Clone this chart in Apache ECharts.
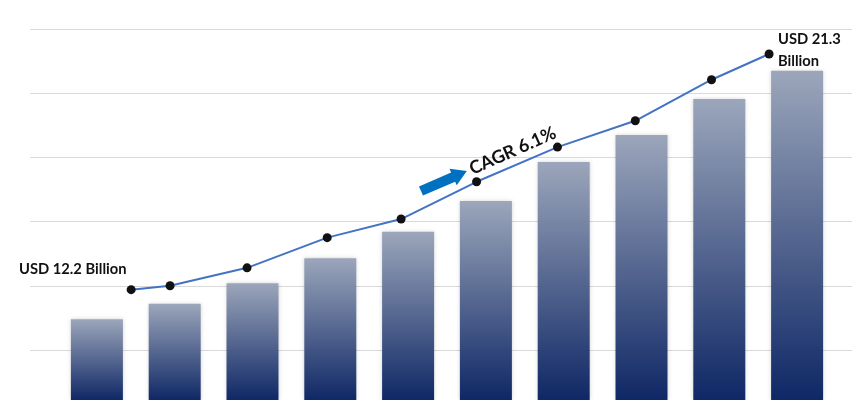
<!DOCTYPE html>
<html>
<head>
<meta charset="utf-8">
<script src="https://cdn.jsdelivr.net/npm/echarts@6/dist/echarts.min.js"></script>
<style>html,body{margin:0;padding:0;background:#fff}#c{width:865px;height:400px}</style>
</head>
<body>
<div id="c"></div>
<script>
// Data (relative units: one gridline step = 1, zero lies just below the visible area)
const categories = ['P1','P2','P3','P4','P5','P6','P7','P8','P9','P10'];
const barValues = [1.48, 1.72, 2.04, 2.43, 2.84, 3.32, 3.93, 4.35, 4.91, 5.35];
const lineX = [0.44, 0.94, 1.93, 2.96, 3.91, 4.88, 5.92, 6.92, 7.9, 8.64];
const lineValues = [1.94, 2.0, 2.28, 2.75, 3.04, 3.62, 4.16, 4.57, 5.21, 5.61];
const startLabel = 'USD 12.2 Billion';
const endLabel = ['USD 21.3', 'Billion'];
const cagrLabel = 'CAGR 6.1%';

const axisTop = 6;          // value at top gridline
const visibleBottom = 0.221; // value at bottom edge of the picture

const chart = echarts.init(document.getElementById('c'), null, {renderer: 'canvas'});
const font = '"Lato", "Open Sans", sans-serif';
const lbl = (text, x, y) => ({type: 'text', x: x, y: y, scaleX: 0.92, z: 10,
  style: {text: text, font: 'bold 16px ' + font, fill: '#111', textVerticalAlign: 'middle', verticalAlign: 'middle'}});
const option = {
  animation: false,
  grid: [
    {left: 58, width: 778, top: 29, bottom: 0},
    {left: 30, right: 13, top: 29, bottom: 0}
  ],
  xAxis: [
    {type: 'category', gridIndex: 0, data: categories, show: false},
    {type: 'value', gridIndex: 0, min: -0.5, max: 9.5, show: false},
    {type: 'value', gridIndex: 1, min: 0, max: 1, show: false}
  ],
  yAxis: [
    {type: 'value', gridIndex: 0, min: visibleBottom, max: axisTop, show: false},
    // gridline axis measured downward from the top gridline
    {type: 'value', gridIndex: 1, inverse: true, min: 0, max: axisTop - visibleBottom, interval: 1,
     axisLine: {show: false}, axisTick: {show: false}, axisLabel: {show: false},
     splitLine: {show: true, lineStyle: {color: '#d9d9d9', width: 1}}}
  ],
  series: [
    {
      type: 'bar', xAxisIndex: 0, yAxisIndex: 0, data: barValues, barWidth: 52, z: 2,
      itemStyle: {
        opacity: 0.94,
        shadowBlur: 4, shadowColor: 'rgba(0,0,0,0.18)',
        color: {type: 'linear', x: 0, y: 0, x2: 0, y2: 1, colorStops: [
          {offset: 0, color: '#98a3b9'},
          {offset: 1, color: '#021c5e'}
        ]}
      }
    },
    {
      type: 'line', xAxisIndex: 1, yAxisIndex: 0, z: 5,
      data: lineX.map((x, i) => [x, lineValues[i]]),
      symbol: 'circle', symbolSize: 9,
      lineStyle: {color: '#4472c4', width: 2},
      itemStyle: {color: '#111111'}
    }
  ],
  graphic: [
    lbl(startLabel, 19, 269),
    lbl(endLabel[0], 778, 39),
    lbl(endLabel[1], 778, 61),
    {type: 'text', x: 474, y: 178, rotation: 0.42, z: 10, style: {text: cagrLabel, font: 'bold 18px ' + font, fill: '#111', textVerticalAlign: 'bottom', verticalAlign: 'bottom'}},
    {type: 'polygon', x: 421, y: 191, rotation: 0.41, z: 10,
     shape: {points: [[0,-5],[35,-5],[35,-9],[50,0],[35,9],[35,5],[0,5]]},
     style: {fill: '#0070c0'}}
  ]
};
chart.setOption(option);
</script>
</body>
</html>
